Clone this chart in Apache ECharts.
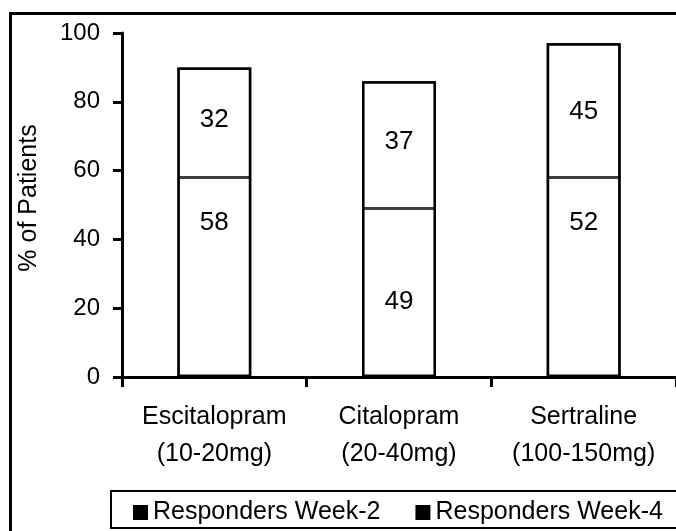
<!DOCTYPE html>
<html>
<head>
<meta charset="utf-8">
<script src="https://cdn.jsdelivr.net/npm/echarts@6/dist/echarts.min.js"></script>
<style>
  html, body { margin: 0; padding: 0; background: #fff; }
  #chart { width: 676px; height: 531px; }
</style>
</head>
<body>
<div id="chart"></div>
<script>
const categories = ['Escitalopram\n(10-20mg)', 'Citalopram\n(20-40mg)', 'Sertraline\n(100-150mg)']
const seriesNames = ['Responders Week-2', 'Responders Week-4']

// segment heights as drawn in the picture
const week2Values = [58, 49, 58]
const week4Values = [32, 37, 39]

// numbers printed inside the bars
const week2Labels = [58, 49, 52]
const week4Labels = [32, 37, 45]

const yTicks = { min: 0, max: 100, interval: 20 }

// label nudges (px), the printed numbers are not centred in the original
const week2LabelShift = [-54, 9, -54]
const week4LabelShift = [-3, -3, 1]

const font = 'Liberation Sans, Arial, sans-serif'

const chart = echarts.init(document.getElementById('chart'))

const barSeries = (name, values, labels, shifts) => ({
  name: name,
  type: 'bar',
  stack: 'total',
  barWidth: '40%',
  itemStyle: { color: '#fff', borderColor: '#000', borderWidth: 1.2 },
  label: {
    show: true,
    position: 'inside',
    color: '#000',
    fontFamily: font,
    fontSize: 26
  },
  data: values.map((v, i) => ({
    value: v,
    label: { formatter: String(labels[i]), offset: [0, shifts[i]] }
  }))
})

// thick outline round each whole bar
const totals = week2Values.map((v, i) => v + week4Values[i])

chart.setOption({
  backgroundColor: '#fff',
  animation: false,
  textStyle: { fontFamily: font, color: '#000' },
  grid: { left: 122, right: -8, top: 33, bottom: 154 },
  legend: {
    left: 128,
    top: 495,
    itemWidth: 15,
    itemHeight: 15,
    itemGap: 35,
    icon: 'rect',
    textStyle: { fontSize: 25, color: '#000', fontFamily: font },
    data: seriesNames.map(n => ({ name: n, itemStyle: { color: '#000', borderWidth: 0 } }))
  },
  xAxis: {
    type: 'category',
    data: categories,
    axisLine: { lineStyle: { color: '#000', width: 3 } },
    axisTick: { show: true, length: 10, lineStyle: { color: '#000', width: 3 } },
    axisLabel: {
      color: '#000', fontSize: 25, lineHeight: 37, margin: 22, fontFamily: font,
      interval: 0, hideOverlap: false
    }
  },
  yAxis: {
    type: 'value',
    min: yTicks.min,
    max: yTicks.max,
    interval: yTicks.interval,
    name: '% of Patients',
    nameLocation: 'middle',
    nameGap: 80,
    nameTextStyle: { fontSize: 25, color: '#000', fontFamily: font, padding: [0, 0, 0, 14] },
    splitLine: { show: false },
    axisLine: { show: true, lineStyle: { color: '#000', width: 3 } },
    axisTick: { show: true, length: 9, lineStyle: { color: '#000', width: 3 } },
    axisLabel: { color: '#000', fontSize: 24, margin: 22, fontFamily: font }
  },
  graphic: [
    {
      type: 'rect',
      shape: { x: 10.5, y: 13.5, width: 700, height: 600 },
      style: { fill: 'none', stroke: '#000', lineWidth: 3 },
      silent: true
    },
    {
      type: 'rect',
      shape: { x: 111, y: 491, width: 600, height: 37 },
      style: { fill: 'none', stroke: '#000', lineWidth: 2 },
      silent: true
    }
  ],
  series: [
    barSeries(seriesNames[0], week2Values, week2Labels, week2LabelShift),
    barSeries(seriesNames[1], week4Values, week4Labels, week4LabelShift),
    {
      name: 'outline',
      type: 'bar',
      barWidth: '40%',
      barGap: '-100%',
      z: 3,
      silent: true,
      itemStyle: { color: 'none', borderColor: '#000', borderWidth: 2.5 },
      data: totals
    }
  ]
})
</script>
</body>
</html>
